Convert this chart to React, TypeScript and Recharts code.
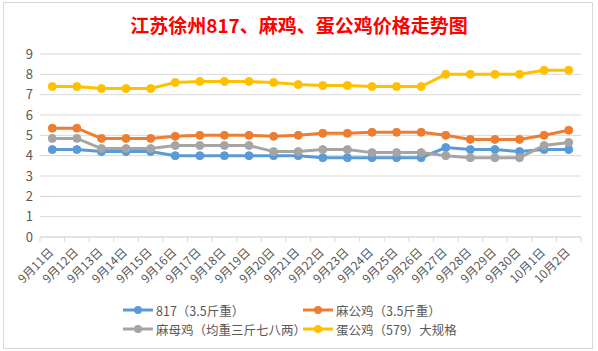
import React from "react";
import { LineChart, Line, XAxis, YAxis, CartesianGrid } from "recharts";

const categories = [
  "9月11日", "9月12日", "9月13日", "9月14日", "9月15日", "9月16日", "9月17日", "9月18日",
  "9月19日", "9月20日", "9月21日", "9月22日", "9月23日", "9月24日", "9月25日", "9月26日",
  "9月27日", "9月28日", "9月29日", "9月30日", "10月1日", "10月2日",
];
const s817 = [4.3, 4.3, 4.2, 4.2, 4.2, 4.0, 4.0, 4.0, 4.0, 4.0, 4.0, 3.9, 3.9, 3.9, 3.9, 3.9, 4.4, 4.3, 4.3, 4.2, 4.3, 4.3];
const maGong = [5.35, 5.35, 4.85, 4.85, 4.85, 4.95, 5.0, 5.0, 5.0, 4.95, 5.0, 5.1, 5.1, 5.15, 5.15, 5.15, 5.0, 4.8, 4.8, 4.8, 5.0, 5.25];
const maMu = [4.85, 4.85, 4.35, 4.35, 4.35, 4.5, 4.5, 4.5, 4.5, 4.2, 4.2, 4.3, 4.3, 4.15, 4.15, 4.15, 4.0, 3.9, 3.9, 3.9, 4.5, 4.65];
const danGong = [7.4, 7.4, 7.3, 7.3, 7.3, 7.6, 7.65, 7.65, 7.65, 7.6, 7.5, 7.45, 7.45, 7.4, 7.4, 7.4, 8.0, 8.0, 8.0, 8.0, 8.2, 8.2];
const yTicks = [0, 1, 2, 3, 4, 5, 6, 7, 8, 9];

const seriesDefs = [
  { key: "s817", name: "817（3.5斤重）", color: "#5b9bd5" },
  { key: "maGong", name: "麻公鸡（3.5斤重）", color: "#ed7d31" },
  { key: "maMu", name: "麻母鸡（均重三斤七八两）", color: "#a5a5a5" },
  { key: "danGong", name: "蛋公鸡（579）大规格", color: "#ffc000" },
];

const data = categories.map((date, i) => ({
  date,
  s817: s817[i],
  maGong: maGong[i],
  maMu: maMu[i],
  danGong: danGong[i],
}));

const FONT = "'Noto Sans CJK SC', 'Noto Sans', sans-serif";
const PLOT_LEFT = 40;
const PLOT_RIGHT = 581;
const BAND = (PLOT_RIGHT - PLOT_LEFT) / categories.length;

const XTick = (props: any) => {
  const { x, y, payload, index } = props;
  const half = BAND / 2;
  const ax = x + 2;
  const ay = y + 16;
  return (
    <g>
      <line x1={x - half} y1={y} x2={x - half} y2={y + 5} stroke="#d9d9d9" />
      {index === categories.length - 1 && (
        <line x1={x + half} y1={y} x2={x + half} y2={y + 5} stroke="#d9d9d9" />
      )}
      <text
        x={ax}
        y={ay}
        transform={`rotate(-45, ${ax}, ${ay})`}
        textAnchor="end"
        fontSize={12}
        fill="#595959"
        fontFamily={FONT}
      >
        {payload.value}
      </text>
    </g>
  );
};

const LegendItem = ({ name, color, left, top }: any) => (
  <div style={{ position: "absolute", left, top, height: 18, display: "flex", alignItems: "center" }}>
    <svg width={30} height={12} style={{ marginRight: 3 }}>
      <line x1={0} y1={6} x2={30} y2={6} stroke={color} strokeWidth={3} />
      <circle cx={15} cy={6} r={4} fill={color} />
    </svg>
    <span style={{ fontSize: 12.5, color: "#595959", fontFamily: FONT, whiteSpace: "nowrap" }}>{name}</span>
  </div>
);

export default function App() {
  return (
    <div style={{ position: "absolute", left: 0, top: 0, width: 598, height: 351, background: "#fff", overflow: "hidden" }}>
      <div
        style={{
          position: "absolute",
          left: 3,
          top: 2,
          width: 588,
          height: 345,
          border: "1px solid #d9d9d9",
          background: "#fff",
        }}
      />
      <div
        style={{
          position: "absolute",
          left: 0,
          top: 12,
          width: 598,
          textAlign: "center",
          fontFamily: FONT,
          fontWeight: "bold",
          fontSize: 19,
          color: "#ff0000",
          lineHeight: "26px",
        }}
      >
        江苏徐州817、麻鸡、蛋公鸡价格走势图
      </div>
      <div style={{ position: "absolute", left: 0, top: 0 }}>
        <LineChart width={598} height={351} data={data} margin={{ top: 54, right: 17, left: 10, bottom: 0 }}>
          <CartesianGrid vertical={false} stroke="#d9d9d9" strokeWidth={1} />
          <XAxis
            dataKey="date"
            interval={0}
            height={114}
            padding={{ left: BAND / 2, right: BAND / 2 }}
            tickLine={false}
            tickSize={0}
            tickMargin={0}
            axisLine={{ stroke: "#d9d9d9" }}
            tick={<XTick />}
          />
          <YAxis
            width={30}
            domain={[0, 9]}
            ticks={yTicks}
            interval={0}
            axisLine={false}
            tickLine={false}
            tickSize={0}
            tickMargin={7}
            tick={{ fontSize: 13, fill: "#595959", fontFamily: FONT }}
          />
          {seriesDefs.map((s) => (
            <Line
              key={s.key}
              type="linear"
              dataKey={s.key}
              name={s.name}
              stroke={s.color}
              strokeWidth={3}
              dot={{ r: 4, fill: s.color, stroke: s.color, strokeWidth: 1 }}
              isAnimationActive={false}
            />
          ))}
        </LineChart>
      </div>
      <LegendItem name={seriesDefs[0].name} color={seriesDefs[0].color} left={123} top={301} />
      <LegendItem name={seriesDefs[1].name} color={seriesDefs[1].color} left={303} top={301} />
      <LegendItem name={seriesDefs[2].name} color={seriesDefs[2].color} left={123} top={320} />
      <LegendItem name={seriesDefs[3].name} color={seriesDefs[3].color} left={303} top={320} />
    </div>
  );
}
